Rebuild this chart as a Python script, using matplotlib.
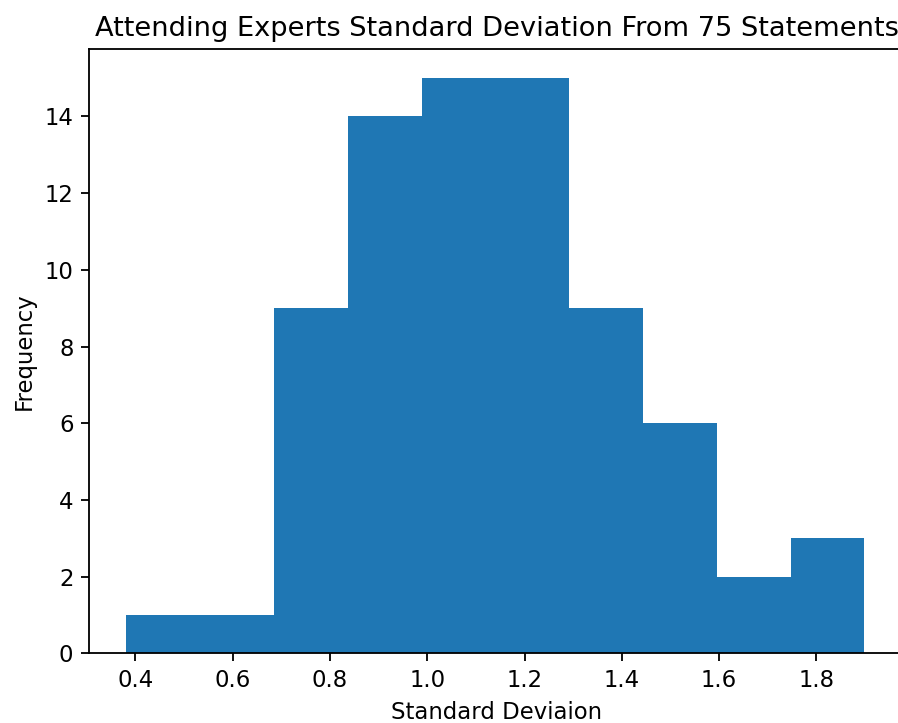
import numpy as np
import matplotlib
matplotlib.use("Agg")
import matplotlib.pyplot as plt

# Data
bin_min = 0.381
bin_max = 1.899
counts = [1, 1, 9, 14, 15, 15, 9, 6, 2, 3]
title = "Attending Experts Standard Deviation From 75 Statements"
xlabel = "Standard Deviaion"
ylabel = "Frequency"

edges = np.linspace(bin_min, bin_max, len(counts) + 1)
centers = (edges[:-1] + edges[1:]) / 2

DPI = 163.7
fig = plt.figure(figsize=(898 / DPI, 723 / DPI), dpi=DPI)
ax = fig.add_axes([89.3 / 898, (723 - 653.3) / 723, 815 / 898, (653.3 - 49.3) / 723])
ax.hist(centers, bins=edges, weights=counts, color="#1f77b4")
ax.set_xlim(0.305, 1.981)
ax.set_title(title)
ax.set_xlabel(xlabel)
ax.set_ylabel(ylabel)
fig.savefig("out.png", dpi=DPI)
